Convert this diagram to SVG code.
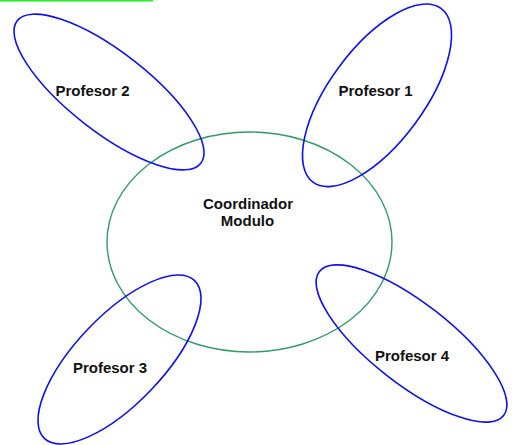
<svg xmlns="http://www.w3.org/2000/svg" width="515" height="445" viewBox="0 0 515 445">
<style>
.prof{fill:none;stroke:#1010f0;stroke-width:1.6}
.coord{fill:none;stroke:#339966;stroke-width:1.4}
.lbl{font-family:"Liberation Sans",Arial,sans-serif;font-weight:bold;font-size:15px;fill:#111;text-anchor:middle}
</style>
<rect width="515" height="445" fill="#fff"/>
<line x1="0" y1="0.75" x2="153" y2="0.75" stroke="#22ee22" stroke-width="1.5"/>
<g id="coordinador">
<ellipse class="coord" cx="249.5" cy="242" rx="142.5" ry="110"/>
<text class="lbl" x="248" y="209">Coordinador</text>
<text class="lbl" x="247.5" y="226">Modulo</text>
</g>
<g id="profesor2">
<ellipse class="prof" cx="109" cy="92" rx="116.2" ry="39.9" transform="rotate(37.8 109 92)"/>
<text class="lbl" x="92.5" y="96">Profesor 2</text>
</g>
<g id="profesor1">
<ellipse class="prof" cx="377" cy="95.3" rx="107.9" ry="47.4" transform="rotate(-53.6 377 95.3)"/>
<text class="lbl" x="375.5" y="95.5">Profesor 1</text>
</g>
<g id="profesor3">
<ellipse class="prof" cx="119.5" cy="359.5" rx="108.9" ry="43.8" transform="rotate(-46.4 119.5 359.5)"/>
<text class="lbl" x="110" y="373">Profesor 3</text>
</g>
<g id="profesor4">
<ellipse class="prof" cx="411.5" cy="343.5" rx="116.9" ry="40.3" transform="rotate(38 411.5 343.5)"/>
<text class="lbl" x="412" y="361">Profesor 4</text>
</g>
<g id="connectors"></g>
</svg>
